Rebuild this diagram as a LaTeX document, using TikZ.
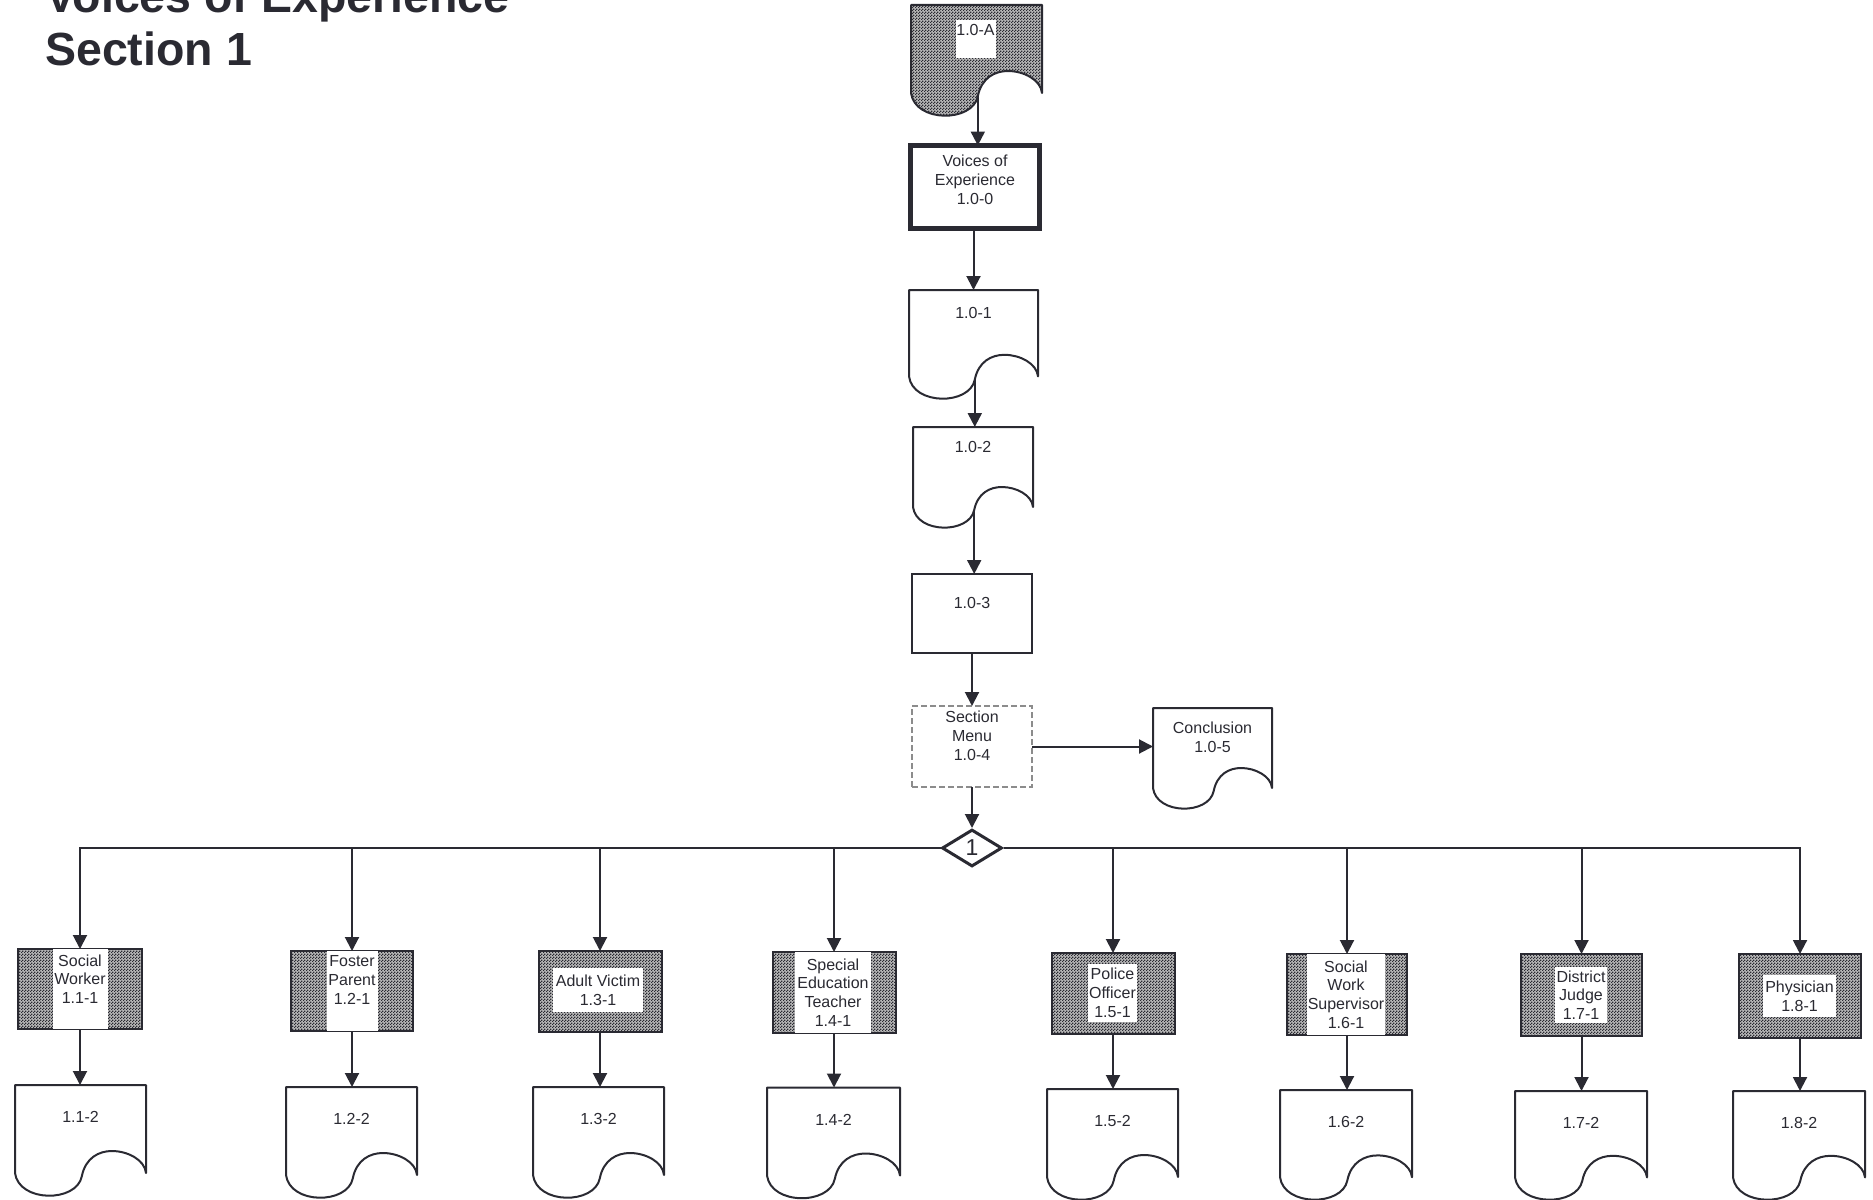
\documentclass[tikz,border=0pt]{standalone}
\usepackage{fontspec}
\setmainfont{Liberation Sans}
\usetikzlibrary{arrows.meta,shapes.geometric,patterns,calc}
\definecolor{inkc}{RGB}{42,42,50}
\definecolor{dashc}{RGB}{140,140,140}
\pgfdeclarepatternformonly{finecheck}{\pgfpointorigin}{\pgfqpoint{3pt}{3pt}}{\pgfqpoint{3pt}{3pt}}{%
  \pgfpathrectangle{\pgfpointorigin}{\pgfqpoint{1.5pt}{1.5pt}}%
  \pgfpathrectangle{\pgfqpoint{1.5pt}{1.5pt}}{\pgfqpoint{1.5pt}{1.5pt}}%
  \pgfusepath{fill}}
\newcommand\labsize{\fontsize{16}{18.8}\selectfont}
\newcommand\docoutline[2][]{%
  \path[docline,#1] let \p1=(#2.north west), \p2=(#2.south east),
    \n1={\x2-\x1}, \n2={\y1-\y2} in
    (\x1,\y1) -- (\x2,\y1) -- (\x2,\y1-0.80*\n2)
    .. controls (\x1+0.99*\n1,\y1-0.68*\n2) and (\x1+0.86*\n1,\y1-0.60*\n2) .. (\x1+0.74*\n1,\y1-0.60*\n2)
    .. controls (\x1+0.64*\n1,\y1-0.60*\n2) and (\x1+0.538*\n1,\y1-0.662*\n2) .. (\x1+0.51*\n1,\y1-0.83*\n2)
    coordinate (#2-out)
    .. controls (\x1+0.47*\n1,\y1-1.07*\n2) and (\x1+0.03*\n1,\y1-1.07*\n2) .. (\x1,\y1-0.80*\n2)
    -- cycle;}
\begin{document}
\begin{tikzpicture}[x=1pt,y=-1pt,
  docnode/.style={rectangle,draw=none,inner sep=0pt,outer sep=0pt},
  docline/.style={draw=inkc,line width=2pt,line join=round},
  shade/.style={preaction={fill=black!28},pattern=finecheck,pattern color=inkc},
  lab/.style={font=\labsize,align=center,inner sep=0pt,text=inkc},
  plainbox/.style={rectangle,draw=inkc,line width=2pt,inner sep=0pt,outer sep=0pt},
  rolebox/.style={plainbox,shade},
  whitebg/.style={lab,fill=white,inner sep=0pt},
  conn/.style={draw=inkc,line width=2pt,-{Triangle[length=14pt,width=14pt]}},
  title/.style={font=\fontsize{46.5}{53}\selectfont\bfseries,text=inkc,inner sep=0pt,anchor=base west}]
\useasboundingbox (0,0) rectangle (1873,1199);

% title
\node[title] (t1) at (45,13) {Voices of Experience};
\node[title] (t2) at (45,66) {Section 1};

% main column nodes
\node[docnode,minimum width=131pt,minimum height=110pt] (A) at (976.5,60) {};
\docoutline[shade]{A}
\node[whitebg,minimum width=40pt,minimum height=38pt] (Aw) at (975.5,39) {};
\node[lab] (At) at (975.5,30) {1.0-A};

\node[plainbox,line width=5pt,minimum width=129pt,minimum height=83pt] (B) at (975,187) {};
\node[lab] (Bt) at (975,180) {Voices of\\Experience\\1.0-0};

\node[docnode,minimum width=129pt,minimum height=108pt] (d01) at (973.5,344) {};
\docoutline{d01}
\node[lab] (d01t) at ($(d01.north)+(0,23)$) {1.0-1};

\node[docnode,minimum width=120pt,minimum height=100pt] (d02) at (973,477) {};
\docoutline{d02}
\node[lab] (d02t) at ($(d02.north)+(0,20)$) {1.0-2};

\node[plainbox,minimum width=120pt,minimum height=79pt] (b3) at (972,613.5) {};
\node[lab] (b3t) at (972,603) {1.0-3};

\node[plainbox,draw=dashc,line width=1.2pt,dash pattern=on 6pt off 3pt,minimum width=120pt,minimum height=81pt] (menu) at (972,746.5) {};
\node[lab] (menut) at (972,736) {Section\\Menu\\1.0-4};

\node[docnode,minimum width=119pt,minimum height=100pt] (concl) at (1212.5,758) {};
\docoutline{concl}
\node[lab] (conclt) at (1212.5,737) {Conclusion\\1.0-5};

\node[diamond,draw=inkc,line width=3pt,minimum width=60pt,minimum height=37pt,inner sep=0pt,
      font=\fontsize{23}{26}\selectfont,text=inkc] (dia) at (972,848) {1};

% role boxes
\node[rolebox,minimum width=124pt,minimum height=80pt] (r1) at (80,989) {};
\node[whitebg,minimum width=55pt,minimum height=80pt] (r1w) at (80,989) {};
\node[lab] (r1t) at (80,979) {Social\\Worker\\1.1-1};

\node[rolebox,minimum width=122pt,minimum height=80pt] (r2) at (352,991) {};
\node[whitebg,minimum width=51pt,minimum height=80pt] (r2w) at (352,991) {};
\node[lab] (r2t) at (352,980) {Foster\\Parent\\1.2-1};

\node[rolebox,minimum width=123pt,minimum height=81pt] (r3) at (600,991.5) {};
\node[whitebg,minimum width=90pt,minimum height=44pt] (r3w) at (598,990) {Adult Victim\\1.3-1};

\node[rolebox,minimum width=123pt,minimum height=81pt] (r4) at (834,992.5) {};
\node[whitebg,minimum width=76pt,minimum height=81pt] (r4w) at (833,992.5) {Special\\Education\\Teacher\\1.4-1};

\node[rolebox,minimum width=123pt,minimum height=81pt] (r5) at (1113,993.5) {};
\node[whitebg,minimum width=49pt,minimum height=58pt] (r5w) at (1112.5,993) {Police\\Officer\\1.5-1};

\node[rolebox,minimum width=120pt,minimum height=81pt] (r6) at (1347,994.5) {};
\node[whitebg,minimum width=78pt,minimum height=81pt] (r6w) at (1346,994.5) {Social\\Work\\Supervisor\\1.6-1};

\node[rolebox,minimum width=121pt,minimum height=82pt] (r7) at (1581.5,995) {};
\node[whitebg,minimum width=52pt,minimum height=56pt] (r7w) at (1581,995) {District\\Judge\\1.7-1};

\node[rolebox,minimum width=122pt,minimum height=84pt] (r8) at (1800,996) {};
\node[whitebg,minimum width=73pt,minimum height=42pt] (r8w) at (1799.5,996) {Physician\\1.8-1};

% bottom documents
\node[docnode,minimum width=131pt,minimum height=110pt] (d1) at (80.5,1140) {};
\node[docnode,minimum width=131pt,minimum height=110pt] (d2) at (351.5,1142) {};
\node[docnode,minimum width=131pt,minimum height=110pt] (d3) at (598.5,1142) {};
\node[docnode,minimum width=133pt,minimum height=110pt] (d4) at (833.5,1142.5) {};
\node[docnode,minimum width=131pt,minimum height=110pt] (d5) at (1112.5,1144) {};
\node[docnode,minimum width=132pt,minimum height=109pt] (d6) at (1346,1144.5) {};
\node[docnode,minimum width=132pt,minimum height=108pt] (d7) at (1581,1145) {};
\node[docnode,minimum width=132pt,minimum height=108pt] (d8) at (1799,1145) {};
\foreach \d/\t in {d1/1.1-2,d2/1.2-2,d3/1.3-2,d4/1.4-2,d5/1.5-2,d6/1.6-2,d7/1.7-2,d8/1.8-2}{
  \docoutline{\d}
  \node[lab] (\d t) at ($(\d.north)+(0,32)$) {\t};
}

% connectors
\draw[conn] (A-out) -- (A-out |- B.north);
\draw[conn] (B.south -| d01.north) -- (d01.north);
\draw[conn] (d01-out) -- (d01-out |- d02.north);
\draw[conn] (d02-out) -- (d02-out |- b3.north);
\draw[conn] (b3.south) -- (b3.south |- menu.north);
\draw[conn] (menu.east) -- (menu.east -| concl.west);
\draw[conn] (menu.south) -- (menu.south |- dia.north);
\foreach \r in {r1,r2,r3,r4}{\draw[conn] (dia.west) -| (\r.north);}
\foreach \r in {r5,r6,r7,r8}{\draw[conn] (dia.east) -| (\r.north);}
\foreach \r/\d in {r1/d1,r2/d2,r3/d3,r4/d4,r5/d5,r6/d6,r7/d7,r8/d8}{
  \draw[conn] (\r.south) -- (\r.south |- \d.north);
}
\end{tikzpicture}
\end{document}
